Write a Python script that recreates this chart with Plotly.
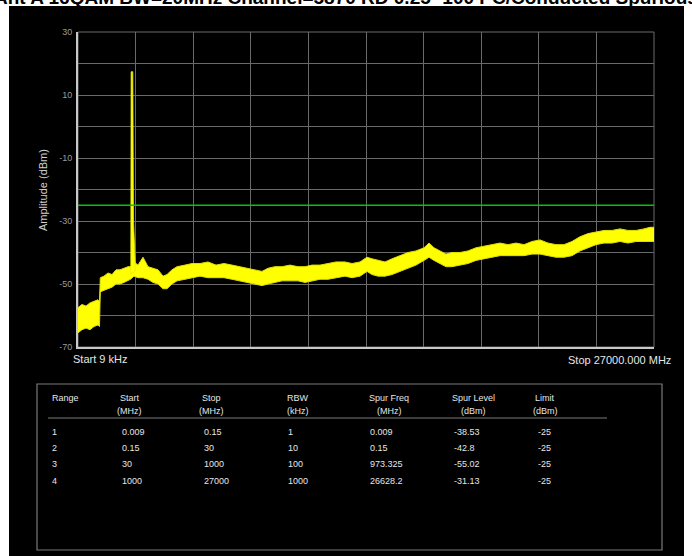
import plotly.graph_objects as go

# ---------------- data ----------------
title_text = "Ant A 16QAM BW=20MHz Channel=5870 RD 0.25 -100 PC/Conducted Spurious"
y_axis_title = "Amplitude (dBm)"
start_label = "Start 9 kHz"
stop_label = "Stop 27000.000 MHz"

# spectrum trace envelope (display position in MHz, upper / lower level in dBm)
freq_mhz = [0, 188, 375, 563, 750, 938, 1008, 1045, 1219, 1406, 1594, 1781, 1969, 2156, 2344, 2461,
            2625, 2813, 3047, 3281, 3516, 3750, 3984, 4172, 4406, 4641, 5016, 5344, 5719, 6094, 6469,
            6844, 7219, 7594, 7969, 8344, 8625, 8906, 9234, 9563, 9938, 10313, 10641, 10969, 11344,
            11719, 12094, 12516, 12844, 13219, 13547, 13781, 14063, 14391, 14719, 15094, 15469, 15844,
            16219, 16453, 16688, 16969, 17250, 17531, 17906, 18281, 18656, 19031, 19406, 19781, 20156,
            20531, 20906, 21281, 21656, 22031, 22406, 22781, 23156, 23531, 23906, 24281, 24656, 25031,
            25406, 25781, 26156, 26531, 26813, 27000]
level_top = [-57.5, -56.5, -57.0, -56.0, -55.5, -55.0, -55.5, -48.0, -47.5, -46.5, -47.0, -45.5, -45.5,
             -45.0, -44.5, -44.5, -43.0, -44.0, -41.5, -44.5, -45.0, -45.5, -47.5, -47.0, -45.5, -44.5,
             -44.0, -43.5, -43.5, -43.0, -44.0, -43.5, -44.0, -44.5, -45.0, -45.5, -46.0, -45.0, -44.5,
             -44.5, -44.0, -44.5, -44.5, -44.0, -44.0, -43.5, -43.0, -43.0, -43.5, -43.0, -41.5, -42.0,
             -42.5, -43.0, -42.0, -41.0, -40.0, -39.5, -38.5, -37.0, -38.5, -39.5, -40.5, -40.0, -40.0,
             -39.5, -38.5, -38.0, -37.5, -37.0, -37.5, -37.0, -37.5, -36.5, -36.0, -37.0, -37.5, -37.5,
             -36.5, -35.0, -34.0, -33.5, -33.0, -33.0, -32.5, -33.0, -33.0, -32.5, -32.0, -32.0]
level_bottom = [-65.5, -64.5, -64.0, -64.5, -63.5, -63.0, -63.5, -52.5, -52.0, -51.5, -51.0, -50.0, -50.0,
                -49.5, -49.0, -48.5, -47.5, -48.0, -48.0, -48.5, -49.5, -50.0, -51.5, -51.5, -50.0, -49.0,
                -48.5, -48.0, -47.5, -48.0, -48.0, -48.0, -48.5, -49.0, -49.5, -50.0, -50.5, -50.0, -49.5,
                -49.0, -49.0, -49.0, -49.5, -49.0, -48.5, -48.5, -48.0, -47.5, -48.0, -47.5, -46.0, -47.0,
                -47.5, -47.5, -47.0, -46.0, -45.0, -44.0, -42.5, -41.5, -42.5, -43.5, -44.5, -44.5, -44.0,
                -43.5, -42.5, -42.0, -41.5, -41.0, -41.0, -41.0, -41.0, -40.5, -40.5, -41.0, -41.5, -41.5,
                -41.0, -39.5, -38.5, -37.5, -37.0, -37.0, -36.5, -37.0, -36.5, -36.5, -36.5, -36.5]

# carrier spike outline
spike_freq = [2475, 2489, 2569, 2602, 2681, 2672, 2475]
spike_level = [-47.0, 17.4, 17.4, -30.0, -43.0, -46.0, -47.0]

# limit line
limit_freq = [0, 27000]
limit_level = [-25, -25]

# y tick labels
y_ticks = [30, 10, -10, -30, -50, -70]

# table
col_names = ["Range", "Start", "Stop", "RBW", "Spur Freq", "Spur Level", "Limit"]
col_units = ["", "(MHz)", "(MHz)", "(kHz)", "(MHz)", "(dBm)", "(dBm)"]
range_col = ["1", "2", "3", "4"]
start_col = ["0.009", "0.15", "30", "1000"]
stop_col = ["0.15", "30", "1000", "27000"]
rbw_col = ["1", "10", "100", "1000"]
spur_freq_col = ["0.009", "0.15", "973.325", "26628.2"]
spur_level_col = ["-38.53", "-42.8", "-55.02", "-31.13"]
limit_col = ["-25", "-25", "-25", "-25"]
table_cols = [range_col, start_col, stop_col, rbw_col, spur_freq_col, spur_level_col, limit_col]

# ---------------- layout helpers (page pixels -> paper) ----------------
W, H = 692, 556
L, R, T, B = 78, 654, 32, 347


def X(px):
    return (px - L) / (R - L)


def Y(py):
    return (B - py) / (B - T)


fig = go.Figure()

# lower envelope then upper envelope filled between
fig.add_trace(go.Scatter(x=freq_mhz, y=level_bottom, mode="lines",
                         line=dict(color="#e0e000", width=1), hoverinfo="skip"))
fig.add_trace(go.Scatter(x=freq_mhz, y=level_top, mode="lines", fill="tonexty",
                         fillcolor="#ffff00", line=dict(color="#e0e000", width=1), hoverinfo="skip"))
fig.add_trace(go.Scatter(x=spike_freq, y=spike_level, mode="lines", fill="toself",
                         fillcolor="#ffff00", line=dict(color="#e8e800", width=0.8), hoverinfo="skip"))
fig.add_trace(go.Scatter(x=limit_freq, y=limit_level, mode="lines",
                         line=dict(color="#00c800", width=1.6), hoverinfo="skip"))

grid_col = "#6a6a6a"
fig.update_xaxes(range=[0, 27000], dtick=2700, tick0=0, showgrid=True, gridcolor=grid_col, gridwidth=1,
                 showticklabels=False, ticks="", zeroline=False,
                 showline=True, linecolor="#c8c8c8", linewidth=2, fixedrange=True)
fig.update_yaxes(range=[-70, 30], tickvals=y_ticks, ticktext=[str(v) for v in y_ticks],
                 showgrid=True, gridcolor=grid_col, gridwidth=1,
                 minor=dict(dtick=10, tick0=-70, showgrid=True, gridcolor=grid_col, gridwidth=1),
                 ticks="", ticklabelstandoff=2, zeroline=False,
                 tickfont=dict(family="Liberation Sans", size=9, color="#9a9a9a"),
                 showline=True, linecolor="#c8c8c8", linewidth=2, fixedrange=True)

shapes = [
    # black panel
    dict(type="rect", xref="paper", yref="paper", x0=X(9), x1=X(684), y0=Y(H + 5), y1=Y(6),
         fillcolor="#000000", line=dict(width=0), layer="below"),
    # top / right plot border
    dict(type="rect", xref="paper", yref="paper", x0=0, x1=1, y0=0, y1=1,
         fillcolor="rgba(0,0,0,0)", line=dict(color=grid_col, width=1), layer="below"),
    # table border
    dict(type="rect", xref="paper", yref="paper", x0=X(37), x1=X(662), y0=Y(550), y1=Y(384),
         fillcolor="rgba(0,0,0,0)", line=dict(color="#7a7a7a", width=1.2)),
    # header separator
    dict(type="line", xref="paper", yref="paper", x0=X(48), x1=X(607), y0=Y(418), y1=Y(418),
         line=dict(color="#7a7a7a", width=1)),
]

annotations = []
# cut-off title at the very top
annotations.append(dict(text="<b>" + title_text + "</b>", xref="paper", yref="paper",
                        x=X(346), y=Y(-2), xanchor="center", yanchor="middle", showarrow=False,
                        font=dict(family="Liberation Sans", size=19, color="#000000")))
# y-axis title
annotations.append(dict(text=y_axis_title, xref="paper", yref="paper", x=X(43), y=Y(190),
                        xanchor="center", yanchor="middle", textangle=-90, showarrow=False,
                        font=dict(family="Liberation Sans", size=11, color="#d0d0d0")))
# start / stop labels
annotations.append(dict(text=start_label, xref="paper", yref="paper", x=X(71), y=Y(359),
                        xanchor="left", yanchor="middle", showarrow=False,
                        font=dict(family="Liberation Sans", size=11, color="#e6e6e6")))
annotations.append(dict(text=stop_label, xref="paper", yref="paper", x=X(673), y=Y(360),
                        xanchor="right", yanchor="middle", showarrow=False,
                        font=dict(family="Liberation Sans", size=11, color="#e6e6e6")))

# table text
head_x = [50, 129.5, 211.5, 285, 389, 473, 545]
head_anchor = ["left", "center", "center", "left", "center", "center", "center"]
data_x = [50, 120, 202, 286, 368, 452, 536]
row_y = [432, 448, 464, 481]
tfont = dict(family="Liberation Sans", size=9, color="#e6e6e6")
for i, name in enumerate(col_names):
    annotations.append(dict(text=name, xref="paper", yref="paper", x=X(head_x[i]), y=Y(398),
                            xanchor=head_anchor[i], yanchor="middle", showarrow=False, font=tfont))
    if col_units[i]:
        annotations.append(dict(text=col_units[i], xref="paper", yref="paper", x=X(head_x[i]),
                                y=Y(411), xanchor=head_anchor[i], yanchor="middle",
                                showarrow=False, font=tfont))
    for j, val in enumerate(table_cols[i]):
        annotations.append(dict(text=val, xref="paper", yref="paper", x=X(data_x[i]), y=Y(row_y[j]),
                                xanchor="left", yanchor="middle", showarrow=False, font=tfont))

fig.update_layout(
    width=W, height=H,
    margin=dict(l=L, r=W - R, t=T, b=H - B, pad=0, autoexpand=False),
    paper_bgcolor="#ffffff", plot_bgcolor="#000000",
    showlegend=False,
    shapes=shapes, annotations=annotations,
    font=dict(family="Liberation Sans"),
)

fig.write_html("out.html", config={"displayModeBar": False},
               post_script="document.body.style.margin='0';document.body.style.overflow='hidden';")
